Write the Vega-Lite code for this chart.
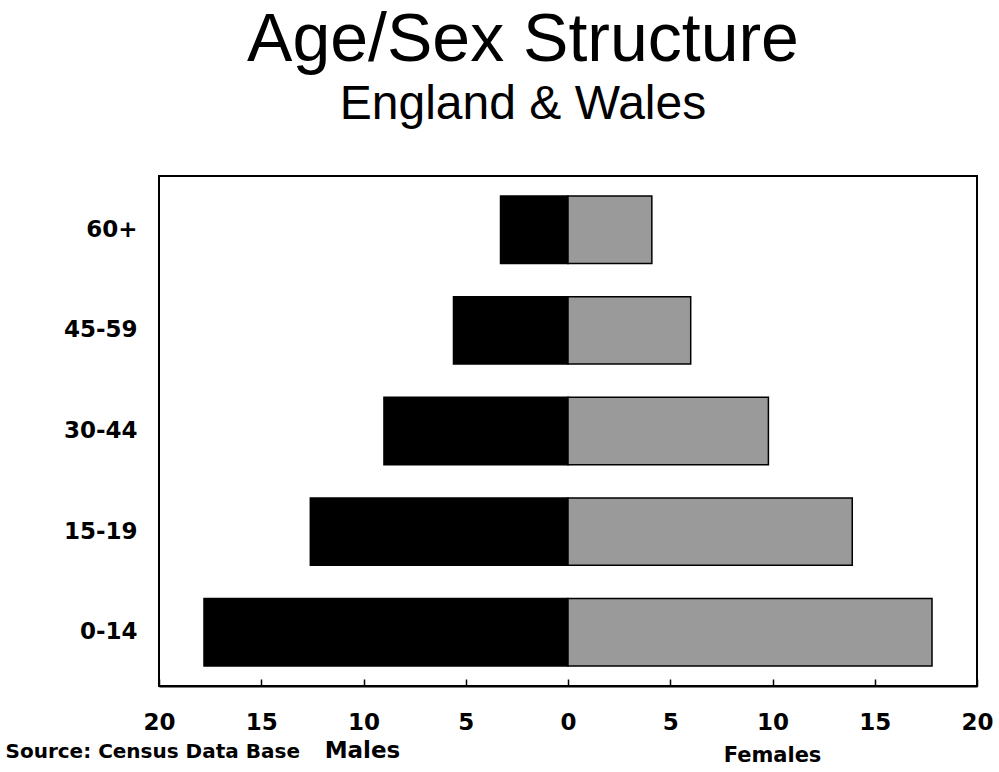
{
  "$schema": "https://vega.github.io/schema/vega-lite/v6.json",
  "autosize": "none",
  "width": 818,
  "height": 510,
  "padding": {"left": 159, "top": 176, "right": 22, "bottom": 86},
  "background": "white",
  "title": {
    "text": "Age/Sex Structure",
    "subtitle": "England & Wales",
    "anchor": "middle",
    "frame": "bounds",
    "font": "Liberation Sans",
    "fontSize": 68,
    "fontWeight": "normal",
    "color": "black",
    "subtitleFont": "Liberation Sans",
    "subtitleFontSize": 48,
    "subtitleColor": "black",
    "subtitlePadding": 6,
    "offset": 47,
    "dx": 24
  },
  "config": {
    "view": {"stroke": "black", "strokeWidth": 2},
    "axis": {"grid": false, "labelColor": "black", "titleColor": "black"}
  },
  "data": {
    "values": [
      {"age": "60+", "sex": "Males", "share": -3.3},
      {"age": "45-59", "sex": "Males", "share": -5.6},
      {"age": "30-44", "sex": "Males", "share": -9.0},
      {"age": "15-19", "sex": "Males", "share": -12.6},
      {"age": "0-14", "sex": "Males", "share": -17.8},
      {"age": "60+", "sex": "Females", "share": 4.1},
      {"age": "45-59", "sex": "Females", "share": 6.0},
      {"age": "30-44", "sex": "Females", "share": 9.8},
      {"age": "15-19", "sex": "Females", "share": 13.9},
      {"age": "0-14", "sex": "Females", "share": 17.8}
    ]
  },
  "encoding": {
    "y": {
      "field": "age",
      "type": "nominal",
      "sort": ["60+", "45-59", "30-44", "15-19", "0-14"],
      "scale": {"paddingInner": 0.33, "paddingOuter": 0.2},
      "axis": {
        "ticks": false,
        "domain": false,
        "labelFont": "DejaVu Sans",
        "labelFontWeight": "bold",
        "labelFontSize": 23,
        "labelPadding": 22,
        "title": "Source: Census Data Base",
        "titleAngle": 0,
        "titleFont": "DejaVu Sans",
        "titleFontWeight": "bold",
        "titleFontSize": 20,
        "titleAlign": "left",
        "titleBaseline": "alphabetic",
        "titleX": -154,
        "titleY": 581
      }
    }
  },
  "layer": [
    {
      "transform": [{"filter": "datum.sex === 'Males'"}],
      "mark": {"type": "bar", "color": "black", "stroke": "black", "strokeWidth": 1.5},
      "encoding": {
        "x": {
          "field": "share",
          "type": "quantitative",
          "scale": {"domain": [-20, 20], "nice": false},
          "axis": {
            "orient": "bottom",
            "values": [-20, -15, -10, -5, 0, 5, 10, 15, 20],
            "labelExpr": "abs(datum.value)",
            "labelFont": "DejaVu Sans",
            "labelFontWeight": "bold",
            "labelFontSize": 23,
            "labelPadding": 32,
            "labelFlush": false,
            "tickSize": -7,
            "tickColor": "black",
            "tickWidth": 1.5,
            "domainColor": "black",
            "domainWidth": 2,
            "title": "Males",
            "titleFont": "DejaVu Sans",
            "titleFontWeight": "bold",
            "titleFontSize": 23,
            "titleAlign": "center",
            "titleBaseline": "alphabetic",
            "titleX": 203,
            "titleY": 71
          }
        }
      }
    },
    {
      "transform": [{"filter": "datum.sex === 'Females'"}],
      "mark": {"type": "bar", "color": "#9a9a9a", "stroke": "black", "strokeWidth": 1.5},
      "encoding": {
        "x": {
          "field": "share",
          "type": "quantitative",
          "axis": {
            "orient": "bottom",
            "labels": false,
            "ticks": false,
            "domain": false,
            "title": "Females",
            "titleFont": "DejaVu Sans",
            "titleFontWeight": "bold",
            "titleFontSize": 21,
            "titleAlign": "center",
            "titleBaseline": "alphabetic",
            "titleX": 613,
            "titleY": 75
          }
        }
      }
    }
  ],
  "resolve": {"axis": {"x": "independent"}}
}
